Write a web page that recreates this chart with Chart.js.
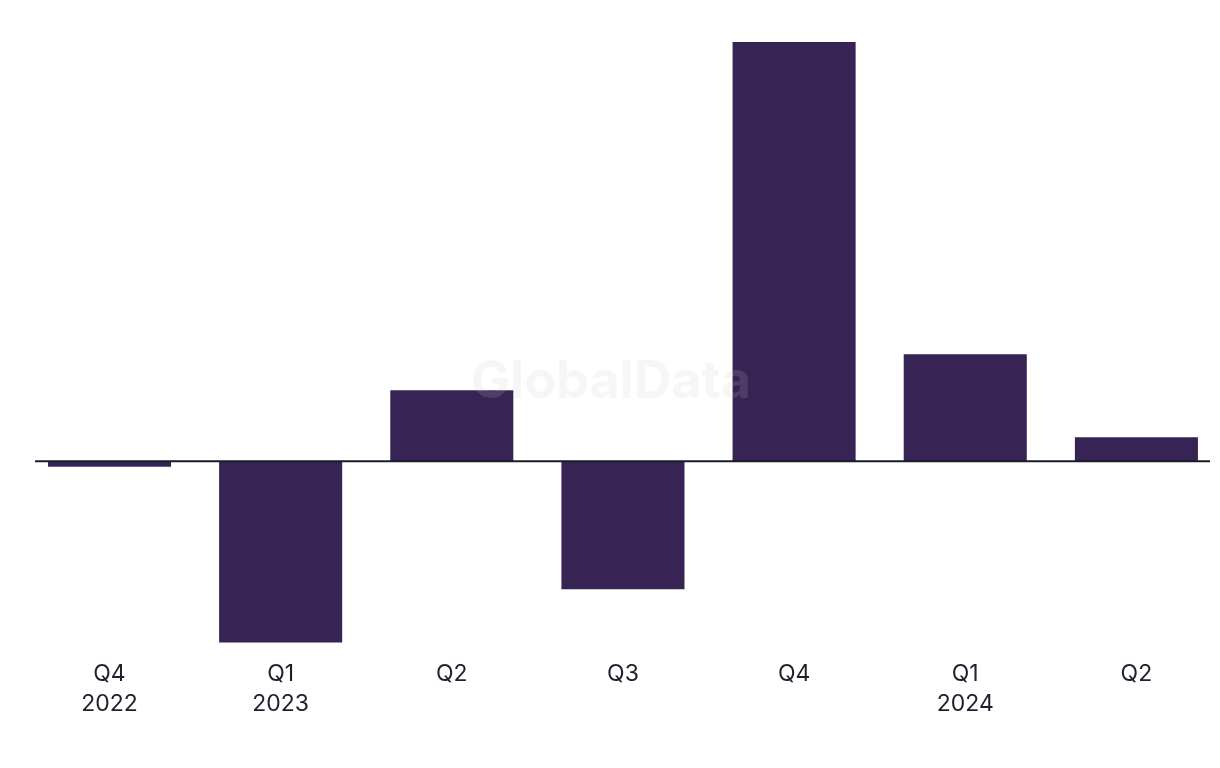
<!DOCTYPE html>
<html>
<head>
<meta charset="utf-8">
<script src="https://cdn.jsdelivr.net/npm/chart.js@4"></script>
<style>
  html, body { margin: 0; padding: 0; background: #ffffff; overflow: hidden; }
  #wrap { width: 1220px; height: 768px; position: relative; }
</style>
</head>
<body>
<div id="wrap"><canvas id="chart"></canvas></div>
<script>
// Quarter labels (first line) and year labels (second line)
const quarters = ["Q4", "Q1", "Q2", "Q3", "Q4", "Q1", "Q2"];
const years = ["2022", "2023", "", "", "", "2024", ""];
// Values (no y-axis shown in the original)
const values = [-0.27, -9.05, 3.55, -6.4, 20.95, 5.35, 1.2];

const barColour = "#372454";
const lineColour = "#1c1a2e";
const textColour = "#1f1f2e";

const labels = quarters.map((q, i) => years[i] ? [q, years[i]] : [q]);

// Zero line drawn across the plot, on top of the bars
const zeroLine = {
    id: "zeroLine",
    afterDatasetsDraw(chart) {
        const x = chart.scales.x;
        const y = chart.scales.y;
        const step = x.getPixelForValue(1) - x.getPixelForValue(0);
        const ctx = chart.ctx;
        const y0 = y.getPixelForValue(0);
        ctx.save();
        ctx.strokeStyle = lineColour;
        ctx.lineWidth = 2;
        ctx.beginPath();
        ctx.moveTo(x.getPixelForValue(0) - step * 0.435, y0);
        ctx.lineTo(x.getPixelForValue(labels.length - 1) + step * 0.43, y0);
        ctx.stroke();
        ctx.restore();
    }
};

// Faint "GlobalData" watermark in the middle
const watermark = {
    id: "watermark",
    afterDraw(chart) {
        const ctx = chart.ctx;
        ctx.save();
        ctx.font = "bold 52px Inter";
        ctx.fillStyle = "rgba(200, 200, 200, 0.16)";
        ctx.textAlign = "center";
        ctx.textBaseline = "middle";
        ctx.fillText("GlobalData", chart.width / 2 + 1, chart.height / 2 - 2);
        ctx.restore();
    }
};

const data = {
    labels: labels,
    datasets: [{
        data: values,
        backgroundColor: barColour,
        borderWidth: 0,
        clip: false,
        categoryPercentage: 1,
        barPercentage: 0.719
    }]
};

const config = {
    type: "bar",
    data: data,
    options: {
        responsive: true,
        maintainAspectRatio: false,
        animation: false,
        layout: {
            padding: { top: 21, left: 109.5, right: 83.6, bottom: 44 }
        },
        plugins: {
            legend: { display: false },
            tooltip: { enabled: false }
        },
        scales: {
            x: {
                offset: false,
                grid: { display: false, drawTicks: false },
                border: { display: false },
                ticks: {
                    color: textColour,
                    padding: 5,
                    maxRotation: 0,
                    autoSkip: false,
                    font: { family: "Inter", size: 23, lineHeight: 1.3 }
                }
            },
            y: {
                display: false,
                min: -9.64,
                max: 22
            }
        }
    },
    plugins: [zeroLine, watermark]
};

new Chart(document.querySelector("#chart"), config);
</script>
</body>
</html>
